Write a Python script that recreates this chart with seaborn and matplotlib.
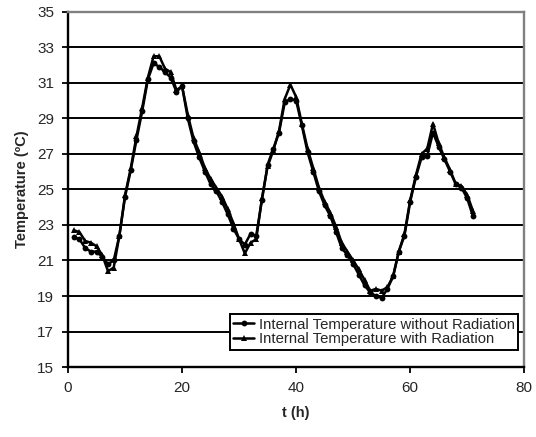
import numpy as np
import pandas as pd
import matplotlib
matplotlib.use("Agg")
import matplotlib.pyplot as plt
import seaborn as sns

hours = list(range(1, 72))
temp_without = [22.3, 22.2, 21.7, 21.5, 21.5, 21.2, 20.8, 21.0, 22.4, 24.6,
                26.1, 27.8, 29.4, 31.2, 32.1, 31.9, 31.6, 31.3, 30.5, 30.8,
                29.0, 27.7, 26.8, 26.0, 25.3, 24.9, 24.3, 23.6, 22.8, 22.2,
                21.9, 22.5, 22.4, 24.4, 26.4, 27.3, 28.2, 29.9, 30.1, 30.0,
                28.6, 27.1, 26.0, 24.9, 24.1, 23.5, 22.6, 21.7, 21.3, 20.8,
                20.2, 19.6, 19.2, 19.0, 18.9, 19.4, 20.1, 21.5, 22.4, 24.3,
                25.7, 26.8, 26.9, 28.2, 27.4, 26.7, 26.0, 25.3, 25.1, 24.5,
                23.5]
temp_with = [22.7, 22.6, 22.1, 22.0, 21.8, 21.3, 20.4, 20.6, 22.4, 24.7,
             26.2, 28.0, 29.6, 31.3, 32.5, 32.5, 31.8, 31.6, 30.6, 30.8,
             29.2, 27.9, 27.1, 26.2, 25.6, 25.1, 24.6, 23.9, 23.1, 22.2,
             21.4, 22.0, 22.2, 24.5, 26.3, 27.2, 28.3, 30.1, 30.9, 30.2,
             28.7, 27.3, 26.2, 25.1, 24.3, 23.7, 22.9, 22.0, 21.5, 21.0,
             20.5, 19.9, 19.3, 19.4, 19.3, 19.5, 20.1, 21.5, 22.5, 24.4,
             25.8, 27.0, 27.3, 28.7, 27.6, 26.8, 26.1, 25.3, 25.2, 24.7,
             23.8]
series_names = ["Internal Temperature without Radiation",
                "Internal Temperature with Radiation"]
x_ticks = [0, 20, 40, 60, 80]
y_ticks = [15, 17, 19, 21, 23, 25, 27, 29, 31, 33, 35]

df = pd.DataFrame({
    "t": hours + hours,
    "T": temp_without + temp_with,
    "series": [series_names[0]] * len(hours) + [series_names[1]] * len(hours),
})

sns.set_style("white")
plt.rcParams["font.family"] = ["Liberation Sans", "DejaVu Sans"]

fig = plt.figure(figsize=(5.36, 4.37), dpi=100)
ax = fig.add_axes([0.127, 0.160, 0.851, 0.813])

sns.lineplot(data=df, x="t", y="T", hue="series", style="series",
             palette=["black", "black"], markers={series_names[0]: "o", series_names[1]: "^"},
             dashes=False, markersize=4.2, linewidth=1.8, markeredgewidth=0,
             ax=ax, legend=True, zorder=3)

ax.set_xlim(0, 80)
ax.set_ylim(15, 35)
ax.set_xticks(x_ticks)
ax.set_yticks(y_ticks)
ax.yaxis.grid(True, color="black", linewidth=1.4)
ax.xaxis.grid(False)
ax.set_axisbelow(True)

for side in ["left", "bottom"]:
    ax.spines[side].set_color("black")
    ax.spines[side].set_linewidth(1.7)
for side in ["top", "right"]:
    ax.spines[side].set_color("#808080")
    ax.spines[side].set_linewidth(1.7)

ax.tick_params(axis="both", direction="out", length=4, width=1.3, color="black",
               labelsize=11, pad=6, left=True, bottom=True)

ax.set_xlabel("t (h)", fontsize=10.5, fontweight="bold", labelpad=8)
ax.set_ylabel("Temperature (ºC)", fontsize=10.5, fontweight="bold", labelpad=6)

leg = ax.legend(loc="lower right", bbox_to_anchor=(0.987, 0.048), fontsize=10.7,
                frameon=True, fancybox=False, edgecolor="black",
                handlelength=1.4, handletextpad=0.3, borderpad=0.25,
                labelspacing=0.05, borderaxespad=0)
leg.get_frame().set_linewidth(1.4)
leg.get_frame().set_alpha(1)

fig.savefig("out.png", dpi=100)
